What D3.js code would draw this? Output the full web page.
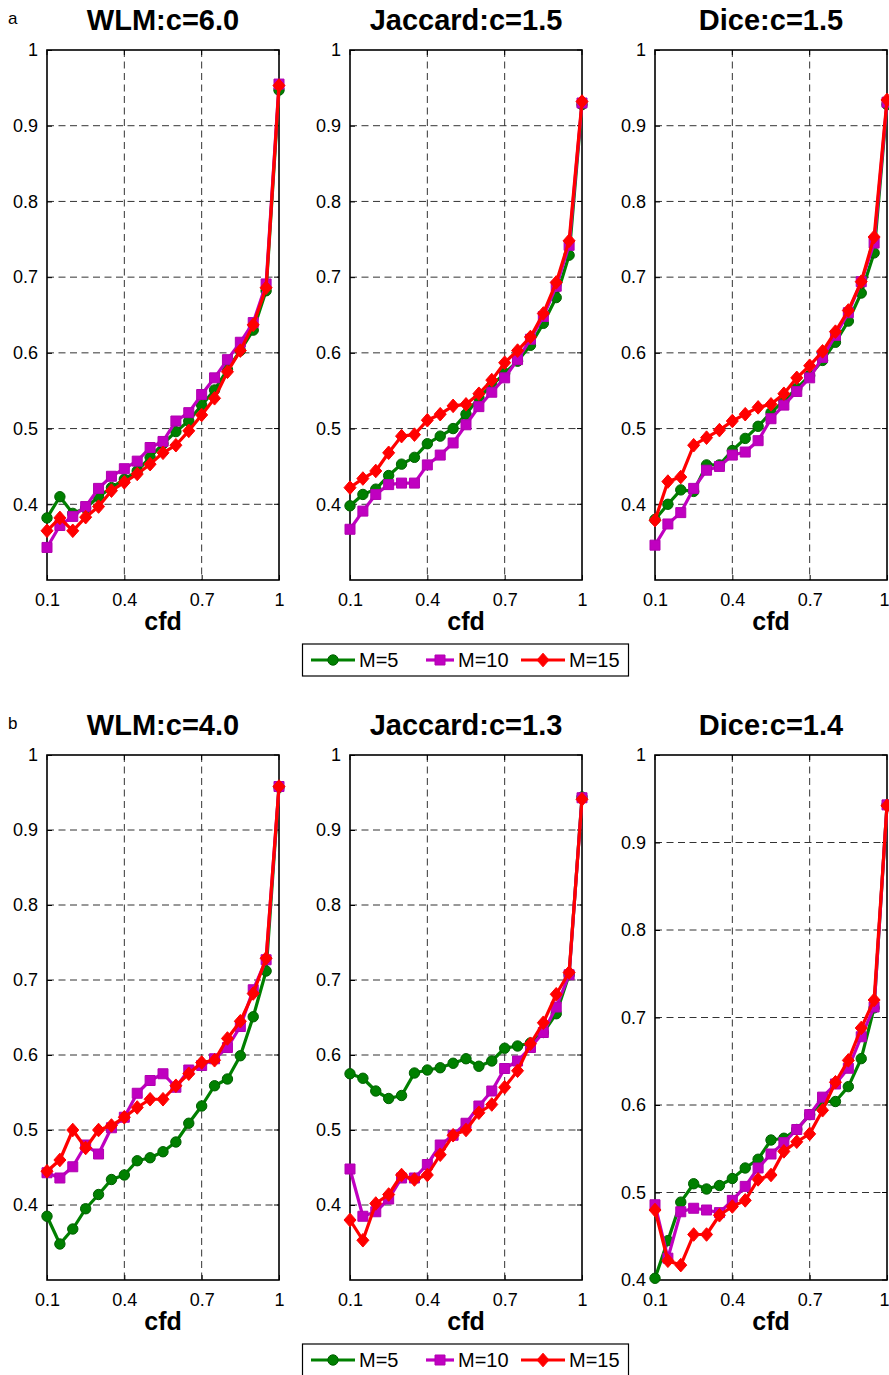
<!DOCTYPE html>
<html>
<head>
<meta charset="utf-8">
<script src="https://cdn.jsdelivr.net/npm/d3@7"></script>
<style>
  html, body { margin: 0; padding: 0; background: #fff; }
  svg { display: block; font-family: "Liberation Sans", Arial, Helvetica, sans-serif; }
</style>
</head>
<body>
<svg id="chart" width="889" height="1375"></svg>
<script>
// ---------------- DATA ----------------
const cfd = [0.1,0.15,0.2,0.25,0.3,0.35,0.4,0.45,0.5,0.55,0.6,0.65,0.7,0.75,0.8,0.85,0.9,0.95,1.0];
const xTicks = [0.1, 0.4, 0.7, 1];
const yTicks = [0.4, 0.5, 0.6, 0.7, 0.8, 0.9, 1];
const seriesNames = ["M=5", "M=10", "M=15"];
const panelTitles = ["WLM:c=6.0", "Jaccard:c=1.5", "Dice:c=1.5", "WLM:c=4.0", "Jaccard:c=1.3", "Dice:c=1.4"];
const rowLabels = ["a", "b"];
const yMins = [0.3, 0.3, 0.3, 0.3, 0.3, 0.4];

// row a
const a_WLM_M5   = [0.382,0.41,0.388,0.395,0.41,0.422,0.433,0.444,0.462,0.48,0.496,0.51,0.531,0.551,0.578,0.603,0.63,0.682,0.947];
const a_WLM_M10  = [0.343,0.372,0.384,0.397,0.421,0.437,0.447,0.457,0.475,0.483,0.51,0.521,0.545,0.567,0.591,0.614,0.64,0.691,0.955];
const a_WLM_M15  = [0.365,0.382,0.365,0.383,0.397,0.418,0.429,0.44,0.453,0.468,0.478,0.497,0.518,0.54,0.575,0.603,0.637,0.686,0.953];
const a_Jac_M5   = [0.398,0.413,0.42,0.438,0.453,0.462,0.48,0.49,0.5,0.519,0.541,0.557,0.573,0.589,0.61,0.639,0.673,0.729,0.928];
const a_Jac_M10  = [0.367,0.391,0.413,0.426,0.428,0.428,0.452,0.465,0.481,0.505,0.529,0.548,0.567,0.591,0.618,0.648,0.688,0.742,0.93];
const a_Jac_M15  = [0.422,0.434,0.444,0.468,0.49,0.492,0.511,0.519,0.53,0.532,0.546,0.564,0.587,0.603,0.621,0.652,0.693,0.748,0.932];
const a_Dice_M5  = [0.38,0.4,0.419,0.417,0.452,0.452,0.471,0.487,0.503,0.521,0.537,0.553,0.57,0.59,0.614,0.642,0.679,0.732,0.928];
const a_Dice_M10 = [0.346,0.374,0.389,0.421,0.445,0.45,0.465,0.469,0.484,0.513,0.531,0.549,0.567,0.594,0.623,0.653,0.694,0.745,0.931];
const a_Dice_M15 = [0.379,0.43,0.436,0.478,0.488,0.498,0.51,0.519,0.528,0.532,0.546,0.567,0.583,0.602,0.628,0.656,0.694,0.753,0.934];
// row b
const b_WLM_M5   = [0.385,0.348,0.368,0.395,0.414,0.434,0.44,0.459,0.463,0.471,0.484,0.509,0.532,0.559,0.568,0.599,0.651,0.712,0.957];
const b_WLM_M10  = [0.443,0.436,0.451,0.48,0.468,0.503,0.517,0.549,0.566,0.575,0.557,0.58,0.586,0.595,0.61,0.638,0.687,0.727,0.958];
const b_WLM_M15  = [0.445,0.46,0.5,0.476,0.5,0.506,0.517,0.53,0.541,0.541,0.559,0.575,0.59,0.593,0.622,0.645,0.682,0.729,0.958];
const b_Jac_M5   = [0.575,0.569,0.552,0.542,0.546,0.576,0.58,0.583,0.589,0.595,0.585,0.592,0.609,0.612,0.616,0.63,0.655,0.707,0.944];
const b_Jac_M10  = [0.448,0.385,0.391,0.408,0.436,0.436,0.454,0.48,0.493,0.509,0.532,0.552,0.582,0.592,0.61,0.63,0.664,0.707,0.943];
const b_Jac_M15  = [0.38,0.353,0.402,0.414,0.44,0.434,0.44,0.467,0.493,0.5,0.523,0.534,0.557,0.579,0.615,0.643,0.681,0.71,0.941];
const b_Dice_M5  = [0.402,0.445,0.489,0.51,0.504,0.508,0.516,0.528,0.538,0.56,0.562,0.572,0.589,0.604,0.604,0.621,0.653,0.711,0.943];
const b_Dice_M10 = [0.486,0.425,0.478,0.482,0.48,0.477,0.491,0.507,0.528,0.544,0.557,0.572,0.589,0.609,0.624,0.642,0.678,0.712,0.943];
const b_Dice_M15 = [0.48,0.422,0.417,0.452,0.452,0.474,0.484,0.491,0.515,0.52,0.547,0.558,0.567,0.594,0.626,0.651,0.688,0.72,0.942];

const panelSeries = [
  [a_WLM_M5, a_WLM_M10, a_WLM_M15],
  [a_Jac_M5, a_Jac_M10, a_Jac_M15],
  [a_Dice_M5, a_Dice_M10, a_Dice_M15],
  [b_WLM_M5, b_WLM_M10, b_WLM_M15],
  [b_Jac_M5, b_Jac_M10, b_Jac_M15],
  [b_Dice_M5, b_Dice_M10, b_Dice_M15]
];

// ---------------- STYLE / LAYOUT ----------------
const colors = ["#008000", "#c000c0", "#ff0000"];
const markerStroke = ["#006000", "#b000b0", "#ff0000"];
const colLeft = [47, 350, 655];
const plotW = 232;
const rowTop = [50, 755];
const rowH = [530, 525];
const FONT = '"Liberation Sans", Arial, Helvetica, sans-serif';

const svg = d3.select("#chart");

function markerPath(kind) {
  if (kind === 0) return d3.symbol().type(d3.symbolCircle).size(Math.PI * 5.2 * 5.2)();
  if (kind === 1) return "M-5,-5L5,-5L5,5L-5,5Z";
  return "M0,-6.8L6,0L0,6.8L-6,0Z";
}

panelTitles.forEach((title, p) => {
  const row = Math.floor(p / 3), col = p % 3;
  const left = colLeft[col], top = rowTop[row], h = rowH[row];
  const x = d3.scaleLinear().domain([0.1, 1]).range([left, left + plotW]);
  const y = d3.scaleLinear().domain([yMins[p], 1]).range([top + h, top]);
  const g = svg.append("g");

  // grid
  g.append("g").selectAll("line.gx")
    .data(xTicks.filter(v => v > 0.1 && v < 1)).enter().append("line")
    .attr("x1", d => x(d)).attr("x2", d => x(d))
    .attr("y1", top).attr("y2", top + h)
    .attr("stroke", "#333").attr("stroke-width", 1).attr("stroke-dasharray", "7,4.5");
  g.append("g").selectAll("line.gy")
    .data(yTicks.filter(v => v > yMins[p] && v < 1)).enter().append("line")
    .attr("x1", left).attr("x2", left + plotW)
    .attr("y1", d => y(d)).attr("y2", d => y(d))
    .attr("stroke", "#333").attr("stroke-width", 1).attr("stroke-dasharray", "7,4.5");

  // axes
  const xAxis = d3.axisBottom(x).tickValues(xTicks).tickFormat(d3.format("")).tickSizeInner(-5).tickSizeOuter(0).tickPadding(13);
  const yAxis = d3.axisLeft(y).tickValues(yTicks).tickFormat(d3.format("")).tickSizeInner(-5).tickSizeOuter(0).tickPadding(9);
  const gx = g.append("g").attr("transform", `translate(0,${top + h})`).call(xAxis);
  const gy = g.append("g").attr("transform", `translate(${left},0)`).call(yAxis);
  [gx, gy].forEach(a => {
    a.select(".domain").remove();
    a.selectAll("line").attr("stroke", "#000").attr("stroke-width", 1);
    a.selectAll("text").attr("font-size", 18).attr("font-family", FONT).attr("fill", "#000");
  });
  if (col === 2) {
    gx.selectAll(".tick").filter(d => d === 1).select("text")
      .attr("text-anchor", "end").attr("x", 889 - (left + plotW));
  }
  // top & right inward ticks
  g.append("g").selectAll("line").data(xTicks).enter().append("line")
    .attr("x1", d => x(d)).attr("x2", d => x(d)).attr("y1", top).attr("y2", top + 5)
    .attr("stroke", "#000");
  g.append("g").selectAll("line").data(yTicks).enter().append("line")
    .attr("x1", left + plotW).attr("x2", left + plotW - 5).attr("y1", d => y(d)).attr("y2", d => y(d))
    .attr("stroke", "#000");

  // box
  g.append("rect").attr("x", left).attr("y", top).attr("width", plotW).attr("height", h)
    .attr("fill", "none").attr("stroke", "#000").attr("stroke-width", 1.6);

  // series
  const line = d3.line().x((d, i) => x(cfd[i])).y(d => y(d));
  panelSeries[p].forEach((vals, s) => {
    const sg = g.append("g");
    sg.append("path").datum(vals).attr("d", line)
      .attr("fill", "none").attr("stroke", colors[s]).attr("stroke-width", 3.2)
      .attr("stroke-linejoin", "round");
    sg.selectAll("path.m").data(vals).enter().append("path").attr("class", "m")
      .attr("d", markerPath(s))
      .attr("transform", (d, i) => `translate(${x(cfd[i])},${y(d)})`)
      .attr("fill", colors[s]).attr("stroke", markerStroke[s]).attr("stroke-width", 1);
  });

  // title
  g.append("text").attr("x", left + plotW / 2).attr("y", top - 20)
    .attr("text-anchor", "middle").attr("font-size", 29).attr("font-weight", "bold")
    .attr("font-family", FONT).text(title);
  // x label
  g.append("text").attr("x", left + plotW / 2).attr("y", top + h + 50)
    .attr("text-anchor", "middle").attr("font-size", 25).attr("font-weight", "bold")
    .attr("font-family", FONT).text("cfd");
});

// row labels
rowLabels.forEach((lab, r) => {
  svg.append("text").attr("x", 8).attr("y", rowTop[r] - 26)
    .attr("font-size", 17).attr("font-family", FONT).text(lab);
});

// legends
rowTop.forEach((top, r) => {
  const by = top + rowH[r] + 64;
  const lg = svg.append("g");
  lg.append("rect").attr("x", 302.5).attr("y", by).attr("width", 326).attr("height", 32)
    .attr("fill", "#fff").attr("stroke", "#000").attr("stroke-width", 1.2);
  const starts = [311, 426, 521];
  const lens = [44, 28, 44];
  const textX = [359, 458, 569];
  seriesNames.forEach((name, s) => {
    const cy = by + 16;
    lg.append("line").attr("x1", starts[s]).attr("x2", starts[s] + lens[s])
      .attr("y1", cy).attr("y2", cy).attr("stroke", colors[s]).attr("stroke-width", 3.2);
    lg.append("path").attr("d", markerPath(s))
      .attr("transform", `translate(${starts[s] + lens[s] / 2},${cy})`)
      .attr("fill", colors[s]).attr("stroke", markerStroke[s]);
    lg.append("text").attr("x", textX[s]).attr("y", cy + 7)
      .attr("font-size", 20).attr("font-family", FONT).text(name);
  });
});
</script>
</body>
</html>
